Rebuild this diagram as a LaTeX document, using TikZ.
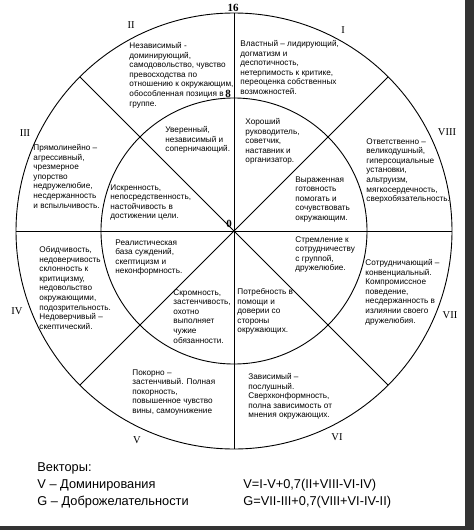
\documentclass[tikz,border=0pt]{standalone}
\usepackage{fontspec}
\setmainfont{Liberation Sans}
\newfontfamily\numfont{Liberation Serif}
\tikzset{
    sector/.style={anchor=north west,align=left,inner sep=0pt,font=\fontsize{8.2}{9.6}\selectfont},
    octant/.style={anchor=center,inner sep=0pt,font=\numfont\fontsize{10.5}{12}\selectfont},
    mark16/.style={anchor=center,inner sep=0pt,font=\numfont\bfseries\fontsize{11}{12}\selectfont},
    legend/.style={anchor=west,inner sep=0pt,font=\fontsize{12.8}{15}\selectfont},
}
\begin{document}
\begin{tikzpicture}[x=1pt,y=-1pt,line width=0.9pt]
        \useasboundingbox (0,0) rectangle (474,530);
        %% frame shadow
        \fill[black!80] (465,0) rectangle (474,530);
        \fill[black!80] (0,526) rectangle (474,530);
        \coordinate (c) at (234,231);
        %% circles
        \draw (c) circle (218pt);
        \draw (c) circle (133pt);
        %% octant borders
        \draw (c) ++(0:218pt) -- ++(180:436pt);
        \draw (c) ++(90:218pt) -- ++(270:436pt);
        \draw (c) ++(45:218pt) -- ++(225:436pt);
        \draw (c) ++(135:218pt) -- ++(315:436pt);
        %% scale marks
        \node[mark16] (m16) at (233,8) {16};
        \node[mark16] (m8) at (228,94) {8};
        \node[mark16] (m0) at (229,224) {0};
        %% octant numbers
        \node[octant] (nI) at (343,30) {I};
        \node[octant] (nII) at (131,25) {II};
        \node[octant] (nIII) at (25,133) {III};
        \node[octant] (nIV) at (17,311) {IV};
        \node[octant] (nV) at (137,440) {V};
        \node[octant] (nVI) at (337,437) {VI};
        \node[octant] (nVII) at (450,315) {VII};
        \node[octant] (nVIII) at (447,132) {VIII};
        %% outer ring
        \node[sector] (outI) at (240,40) {Властный – лидирующий,\\догматизм и\\деспотичность,\\нетерпимость к критике,\\переоценка собственных\\возможностей.};
        \node[sector] (outII) at (129,42) {Независимый -\\доминирующий,\\самодовольство, чувство\\превосходства по\\отношению к окружающим,\\обособленная позиция в\\группе.};
        \node[sector] (outIII) at (33,144) {Прямолинейно –\\агрессивный,\\чрезмерное\\упорство\\недружелюбие,\\несдержанность\\и вспыльчивость.};
        \node[sector] (outIV) at (39,246) {Обидчивость,\\недоверчивость\\склонность к\\критицизму,\\недовольство\\окружающими,\\подозрительность.\\Недоверчивый –\\скептический.};
        \node[sector] (outV) at (132,369) {Покорно –\\застенчивый. Полная\\покорность,\\повышенное чувство\\вины, самоунижение};
        \node[sector] (outVI) at (248,373) {Зависимый –\\послушный.\\Сверхконформность,\\полна зависимость от\\мнения окружающих.};
        \node[sector] (outVII) at (365,259) {Сотрудничающий –\\конвенциальный.\\Компромиссное\\поведение,\\несдержанность в\\излиянии своего\\дружелюбия.};
        \node[sector] (outVIII) at (366,138) {Ответственно –\\великодушный,\\гиперсоциальные\\установки,\\альтруизм,\\мягкосердечность,\\сверхобязательность.};
        %% inner ring
        \node[sector] (inI) at (245,118) {Хороший\\руководитель,\\советчик,\\наставник и\\организатор.};
        \node[sector] (inII) at (165,126) {Уверенный,\\независимый и\\соперничающий.};
        \node[sector] (inIII) at (110,184) {Искренность,\\непосредственность,\\настойчивость в\\достижении цели.};
        \node[sector] (inIV) at (115,239) {Реалистическая\\база суждений,\\скептицизм и\\неконформность.};
        \node[sector] (inV) at (173,289) {Скромность,\\застенчивость,\\охотно\\выполняет\\чужие\\обязанности.};
        \node[sector] (inVI) at (237,288) {Потребность в\\помощи и\\доверии со\\стороны\\окружающих.};
        \node[sector] (inVII) at (295,236) {Стремление к\\сотрудничеству\\с группой,\\дружелюбие.};
        \node[sector] (inVIII) at (295,176) {Выраженная\\готовность\\помогать и\\сочувствовать\\окружающим.};
        %% vectors
        \node[legend] (vtitle) at (37,468) {Векторы:};
        \node[legend] (vV) at (37,485) {V – Доминирования};
        \node[legend] (vG) at (37,502) {G – Доброжелательности};
        \node[legend] (fV) at (243,485) {V=I-V+0,7(II+VIII-VI-IV)};
        \node[legend] (fG) at (243,502) {G=VII-III+0,7(VIII+VI-IV-II)};
\end{tikzpicture}
\end{document}
